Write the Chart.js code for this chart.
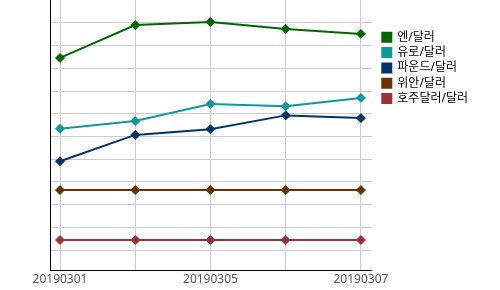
<!DOCTYPE html>
<html>
<head>
<meta charset="utf-8">
<script src="https://cdn.jsdelivr.net/npm/chart.js@4.4.1/dist/chart.umd.min.js"></script>
<style>
  html, body { margin: 0; padding: 0; background: #fff; }
</style>
</head>
<body>
<canvas id="chart" width="500" height="290"></canvas>
<script>
// dates on the x axis
const dates = ["20190301", "20190304", "20190305", "20190306", "20190307"]
const seriesNames = ["엔/달러", "유로/달러", "파운드/달러", "위안/달러", "호주달러/달러"]

// values (y axis has no labels, so gridline units)
const yenUsd = [8.46, 9.91, 10.04, 9.74, 9.52]
const eurUsd = [5.34, 5.68, 6.43, 6.33, 6.70]
const gbpUsd = [3.91, 5.07, 5.32, 5.93, 5.81]
const cnyUsd = [2.64, 2.64, 2.64, 2.64, 2.64]
const audUsd = [0.44, 0.44, 0.44, 0.44, 0.44]

const gridValues = [0, 1, 2, 3, 4, 5, 6, 7, 8, 9, 10]
const seriesColors = ["#006600", "#109999", "#003366", "#663300", "#993333"]

const allSeries = [yenUsd, eurUsd, gbpUsd, cnyUsd, audUsd]

Chart.defaults.font.family = '"Noto Sans", "Noto Sans CJK KR", sans-serif'

const datasets = allSeries.map((values, i) => ({
  label: seriesNames[i],
  data: values.map((v, j) => ({ x: j, y: v })),
  borderColor: seriesColors[i],
  backgroundColor: seriesColors[i],
  borderWidth: 2,
  pointStyle: "rectRot",
  pointRadius: 4.5,
  pointBorderWidth: 1,
  pointBackgroundColor: seriesColors[i],
  pointBorderColor: seriesColors[i],
  tension: 0,
}))

new Chart(document.getElementById("chart"), {
  type: "line",
  data: { datasets: datasets },
  options: {
    responsive: false,
    animation: false,
    layout: {
      autoPadding: false,
      padding: { top: 0, left: 50, right: 22, bottom: 1.6 },
    },
    plugins: {
      tooltip: { enabled: false },
      legend: {
        position: "right",
        align: "start",
        maxWidth: 200,
        title: {
          display: true,
          text: "",
          font: { size: 10, lineHeight: 1 },
          padding: { top: 18, bottom: 0 },
        },
        labels: {
          boxWidth: 9,
          boxHeight: 9,
          padding: 3.3,
          color: "#000",
          font: { size: 12 },
        },
      },
    },
    scales: {
      x: {
        type: "linear",
        min: -0.133,
        max: 4.147,
        afterBuildTicks: (scale) => {
          scale.ticks = dates.map((d, i) => ({ value: i }))
        },
        grid: { color: "#cccccc", drawTicks: false },
        border: { color: "#000", width: 1 },
        ticks: {
          autoSkip: false,
          maxRotation: 0,
          padding: 2,
          color: "#555",
          font: { size: 12 },
          callback: (value, index) => (index % 2 === 0 ? dates[value] : ""),
        },
      },
      y: {
        min: -0.881,
        max: 11.013,
        afterBuildTicks: (scale) => {
          scale.ticks = gridValues.map((v) => ({ value: v }))
        },
        grid: { color: "#cccccc", drawTicks: false },
        border: { color: "#000", width: 1 },
        ticks: { display: false },
      },
      // empty spacer between plot and legend
      gap: {
        type: "linear",
        position: "right",
        display: true,
        grid: { display: false },
        border: { display: false },
        ticks: { display: false },
        afterFit: (scale) => {
          scale.width = 7
        },
      },
    },
  },
})
</script>
</body>
</html>
